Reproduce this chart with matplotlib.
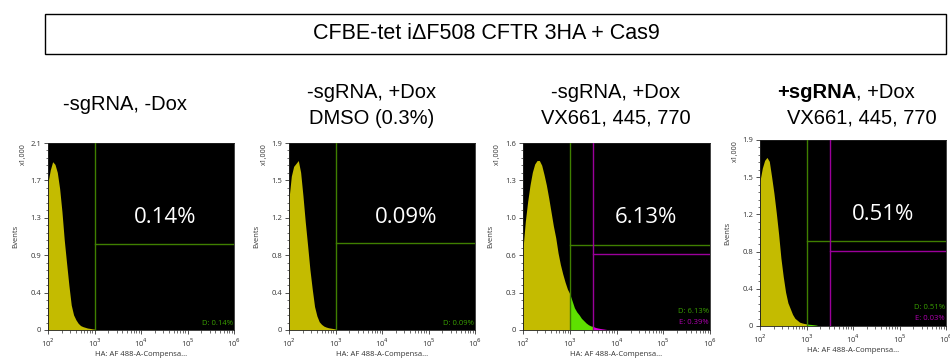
import numpy as np
import matplotlib
matplotlib.use("Agg")
import matplotlib.pyplot as plt
from matplotlib.patches import Rectangle

# ---------------- data ----------------
title = "CFBE-tet iΔF508 CFTR 3HA + Cas9"
panel_titles = ["-sgRNA, -Dox",
                "-sgRNA, +Dox\nDMSO (0.3%)",
                "-sgRNA, +Dox\nVX661, 445, 770",
                "+sgRNA, +Dox\nVX661, 445, 770"]
big_pcts = ["0.14%", "0.09%", "6.13%", "0.51%"]
gate_d = ["D: 0.14%", "D: 0.09%", "D: 6.13%", "D: 0.51%"]
gate_e = [None, None, "E: 0.39%", "E: 0.03%"]

# log10 fluorescence sample positions (decades)
log_x = np.round(np.arange(2.0, 3.901, 0.05), 3)

# histogram heights (events x1,000) read at the positions above
p1 = [1.66, 1.80, 1.89, 1.86, 1.77, 1.59, 1.33, 1.01, 0.75, 0.50, 0.28, 0.17,
      0.115, 0.075, 0.05, 0.038, 0.03, 0.022, 0.018, 0.013, 0.01, 0.004, 0.0]
p2 = [1.35, 1.58, 1.68, 1.71, 1.74, 1.62, 1.38, 1.11, 0.87, 0.62, 0.42, 0.24,
      0.145, 0.085, 0.058, 0.04, 0.03, 0.023, 0.019, 0.015, 0.01, 0.0]
p3 = [0.70, 0.93, 1.10, 1.24, 1.35, 1.42, 1.45, 1.45, 1.41, 1.33, 1.24, 1.13,
      1.01, 0.89, 0.79, 0.66, 0.56, 0.48, 0.41, 0.35, 0.31, 0.25, 0.19, 0.155,
      0.13, 0.10, 0.08, 0.06, 0.045, 0.035, 0.03, 0.022, 0.017, 0.013, 0.01,
      0.007, 0.004, 0.0]
p4 = [1.50, 1.63, 1.71, 1.74, 1.70, 1.54, 1.37, 1.17, 0.95, 0.70, 0.51, 0.35,
      0.24, 0.18, 0.12, 0.08, 0.06, 0.04, 0.032, 0.026, 0.022, 0.018, 0.016,
      0.013, 0.01, 0.004, 0.0]
hists = [p1, p2, p3, p4]

y_max = [2.1, 1.92, 1.6, 1.92]
y_ticklabels = [["0", "0.4", "0.9", "1.3", "1.7", "2.1"],
                ["0", "0.4", "0.8", "1.2", "1.5", "1.9"],
                ["0", "0.3", "0.6", "1.0", "1.3", "1.6"],
                ["0", "0.4", "0.8", "1.2", "1.5", "1.9"]]
x_ticklabels = ["10$^2$", "10$^3$", "10$^4$", "10$^5$", "10$^6$"]

gate_d_x = 1e3
gate_e_x = 10 ** 3.5
gate_d_y = [0.97, 0.89, 0.73, 0.88]
gate_e_y = [None, None, 0.65, 0.77]
show_e = [False, False, True, True]

# ---------------- style ----------------
YELLOW = "#c4bb00"
GREEN_FILL = "#5ee000"
MAGENTA_FILL = "#e000e0"
GREEN_LINE = "#3f7f00"
MAGENTA_LINE = "#9b009b"
GREEN_TXT = "#3aa000"
MAGENTA_TXT = "#b000b0"
TICK_COLOR = "#333333"

narrow = ["Liberation Sans Narrow", "Liberation Sans", "DejaVu Sans"]
small = ["Open Sans", "DejaVu Sans"]

W, H = 950, 358
fig = plt.figure(figsize=(W / 100, H / 100), dpi=100)

def fx(px):
    return px / W

def fy(py):
    return 1 - py / H

# title box
fig.patches.append(Rectangle((fx(45), fy(54)), fx(946) - fx(45), fy(14) - fy(54),
                             transform=fig.transFigure, fill=False,
                             edgecolor="black", linewidth=1.0))
fig.text(fx(486), fy(33.5), title, ha="center", va="center",
         fontsize=15.5, family=narrow)

axes_px = [(48, 143, 234, 330), (289, 143, 475, 330),
           (523, 143, 710, 330), (760, 140, 946, 326)]
sub_cx = [125, 372, 616, 862]
sub_fs = 14.5

for i, (x0, y0, x1, y1) in enumerate(axes_px):
    ax = fig.add_axes([fx(x0), fy(y1), fx(x1) - fx(x0), fy(y0) - fy(y1)])
    ax.set_facecolor("black")
    ax.set_xscale("log")
    ax.set_xlim(1e2, 1e6)
    ax.set_ylim(0, y_max[i])

    vals = np.array(hists[i])
    lx = log_x[:len(vals)]
    x = 10 ** lx
    m_y = lx <= 3.0 + 1e-9
    m_g = (lx >= 3.0 - 1e-9) & (lx <= 3.5 + 1e-9)
    m_m = lx >= 3.5 - 1e-9
    ax.fill_between(x, 0, vals, where=m_y, color=YELLOW, linewidth=0, zorder=2)
    ax.fill_between(x, 0, vals, where=m_g, color=GREEN_FILL, linewidth=0, zorder=2)
    ax.fill_between(x, 0, vals, where=m_m,
                    color=MAGENTA_FILL if show_e[i] else GREEN_FILL,
                    linewidth=0, zorder=2)

    # gates
    ax.axvline(gate_d_x, color=GREEN_LINE, lw=1.0, zorder=3)
    ax.plot([gate_d_x, 1e6], [gate_d_y[i]] * 2, color=GREEN_LINE, lw=1.0, zorder=3)
    if show_e[i]:
        ax.axvline(gate_e_x, color=MAGENTA_LINE, lw=1.0, zorder=3)
        ax.plot([gate_e_x, 1e6], [gate_e_y[i]] * 2, color=MAGENTA_LINE, lw=1.0, zorder=3)

    # ticks
    ticks = np.linspace(0, y_max[i], 6)
    ax.set_yticks(ticks)
    ax.set_yticklabels(y_ticklabels[i])
    ax.set_yticks(np.linspace(0, y_max[i], 26), minor=True)
    ax.set_xticks([1e2, 1e3, 1e4, 1e5, 1e6])
    ax.set_xticklabels(x_ticklabels)
    ax.xaxis.set_minor_locator(matplotlib.ticker.LogLocator(base=10, subs=np.arange(2, 10)))
    ax.xaxis.set_minor_formatter(matplotlib.ticker.NullFormatter())
    ax.tick_params(axis="both", which="major", length=3, width=0.6,
                   labelsize=5.5, colors=TICK_COLOR, pad=2)
    ax.tick_params(axis="both", which="minor", length=1.8, width=0.5,
                   colors=TICK_COLOR)
    for lab in ax.get_xticklabels() + ax.get_yticklabels():
        lab.set_family(small)
    for s in ax.spines.values():
        s.set_color("#222222")
        s.set_linewidth(0.6)

    ax.set_ylabel("Events", fontsize=5.5, family=small, color=TICK_COLOR, labelpad=8)
    ax.set_xlabel("HA: AF 488-A-Compensa...", fontsize=5.5, family=small,
                  color=TICK_COLOR, labelpad=1)
    ax.text(-0.135, 1.0, "x1,000", rotation=90, ha="center", va="top",
            fontsize=5, family=small, color=TICK_COLOR, transform=ax.transAxes)

    ax.text(0.63 if i < 2 else 0.66, 0.60, big_pcts[i], transform=ax.transAxes,
            ha="center", va="center", color="white", fontsize=16, family=small)
    if gate_e[i] is None:
        ax.text(0.995, 0.035, gate_d[i], transform=ax.transAxes, ha="right",
                va="center", color=GREEN_TXT, fontsize=5.5, family=small)
    else:
        ax.text(0.995, 0.10, gate_d[i], transform=ax.transAxes, ha="right",
                va="center", color=GREEN_TXT, fontsize=5.5, family=small)
        ax.text(0.995, 0.04, gate_e[i], transform=ax.transAxes, ha="right",
                va="center", color=MAGENTA_TXT, fontsize=5.5, family=small)

# panel subtitles
for i, t in enumerate(panel_titles):
    if i == 0:
        fig.text(fx(sub_cx[i]), fy(105), t, ha="center", va="center",
                 fontsize=sub_fs, family=narrow)
    else:
        l1, l2 = t.split("\n")
        if i < 3:
            fig.text(fx(sub_cx[i]), fy(92), l1, ha="center", va="center",
                     fontsize=sub_fs, family=narrow)
        else:
            b, rest = l1.split(",", 1)
            fig.text(fx(sub_cx[i] - 6), fy(92), b, ha="right", va="center",
                     fontsize=sub_fs, family=narrow, fontweight="bold")
            fig.text(fx(sub_cx[i] - 6), fy(92), "," + rest, ha="left", va="center",
                     fontsize=sub_fs, family=narrow)
        fig.text(fx(sub_cx[i]), fy(118), l2, ha="center", va="center",
                 fontsize=sub_fs, family=narrow)

fig.savefig("out.png", dpi=100)
